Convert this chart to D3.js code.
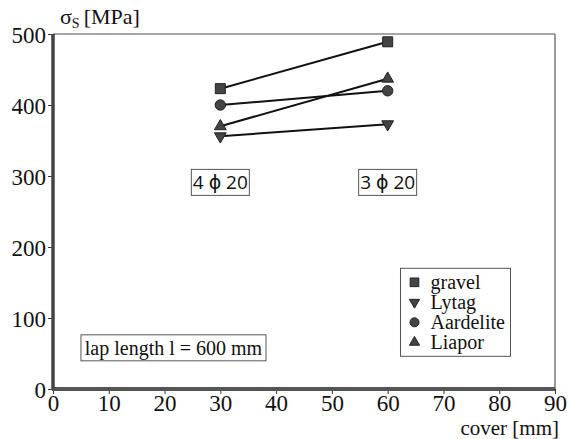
<!DOCTYPE html>
<html>
<head>
<meta charset="utf-8">
<script src="https://cdn.jsdelivr.net/npm/d3@7"></script>
<style>
  body { margin: 0; background: #fff; }
  svg { display: block; }
  text { font-family: "Liberation Serif", "DejaVu Serif", "Times New Roman", serif; fill: #111; }
</style>
</head>
<body>
<div id="container"></div>
<script>
// data
var covers = [30, 60];
var seriesNames = ["gravel", "Lytag", "Aardelite", "Liapor"];
var gravel = [423, 489];
var lytag = [356, 373];
var aardelite = [400, 420];
var liapor = [370, 437];
var xTicks = [0, 10, 20, 30, 40, 50, 60, 70, 80, 90];
var yTicks = [0, 100, 200, 300, 400, 500];

var SERIF = "'Liberation Serif', 'DejaVu Serif', serif";
var SANS = "'Open Sans', 'DejaVu Sans', sans-serif";

var series = [
  {name: seriesNames[0], values: gravel, symbol: d3.symbolSquare, size: 100, rot: 0},
  {name: seriesNames[1], values: lytag, symbol: d3.symbolTriangle, size: 60, rot: 180},
  {name: seriesNames[2], values: aardelite, symbol: d3.symbolCircle, size: 85, rot: 0},
  {name: seriesNames[3], values: liapor, symbol: d3.symbolTriangle, size: 60, rot: 0}
];

var W = 568, H = 439;
var margin = {top: 34, right: 13, bottom: 50, left: 53};
var width = W - margin.left - margin.right;
var height = H - margin.top - margin.bottom;

var svg = d3.select("div#container").append("svg")
  .attr("width", W).attr("height", H);
var g = svg.append("g").attr("transform", "translate(" + margin.left + "," + margin.top + ")");

var x = d3.scaleLinear().domain([0, 90]).range([0, width]);
var y = d3.scaleLinear().domain([0, 500]).range([height, 0]);

// frame: thin top and right border
g.append("line").attr("x1", 0).attr("x2", width).attr("y1", 0).attr("y2", 0)
  .attr("stroke", "#888").attr("stroke-width", 1.5);
g.append("line").attr("x1", width).attr("x2", width).attr("y1", 0).attr("y2", height)
  .attr("stroke", "#555").attr("stroke-width", 1.2);

// axes
var xAxis = g.append("g")
  .attr("transform", "translate(0," + height + ")")
  .call(d3.axisBottom(x).tickValues(xTicks).tickSize(5).tickPadding(3));
var yAxis = g.append("g")
  .call(d3.axisLeft(y).tickValues(yTicks).tickSize(5).tickPadding(2));

[xAxis, yAxis].forEach(function(a) {
  a.attr("font-family", null).attr("font-size", null);
  a.selectAll("text").style("font-family", SERIF)
    .style("font-size", "23px").attr("fill", "#111");
  a.selectAll(".tick line").attr("stroke", "#333").attr("stroke-width", 1);
  a.select(".domain").remove();
});
xAxis.selectAll("text").attr("dy", "0.62em");
yAxis.selectAll("text").attr("dy", "0.35em");

// thick axis lines
g.append("line").attr("x1", -1).attr("x2", width).attr("y1", height).attr("y2", height)
  .attr("stroke", "#555").attr("stroke-width", 4);
g.append("line").attr("x1", 0).attr("x2", 0).attr("y1", 0).attr("y2", height + 1)
  .attr("stroke", "#444").attr("stroke-width", 3.5);

// axis titles
var yt = svg.append("text").attr("x", 60).attr("y", 24)
  .style("font-family", SERIF).style("font-size", "22px");
yt.append("tspan").text("σ");
yt.append("tspan").attr("dy", 4).style("font-size", "14px").text("S");
yt.append("tspan").attr("dy", -4).attr("dx", 4).text("[MPa]");

svg.append("text").attr("x", 559).attr("y", 435).attr("text-anchor", "end")
  .style("font-family", SERIF).style("font-size", "21px").text("cover [mm]");

// lines and markers
var line = d3.line()
  .x(function(d, i) { return x(covers[i]); })
  .y(function(d) { return y(d); });

series.forEach(function(s) {
  g.append("path").datum(s.values)
    .attr("fill", "none").attr("stroke", "#111").attr("stroke-width", 2)
    .attr("d", line);
});
series.forEach(function(s) {
  g.selectAll(null).data(s.values).enter().append("path")
    .attr("d", d3.symbol().type(s.symbol).size(s.size))
    .attr("transform", function(d, i) {
      return "translate(" + x(covers[i]) + "," + y(d) + ") rotate(" + s.rot + ")";
    })
    .attr("fill", "#444").attr("stroke", "#222").attr("stroke-width", 1);
});

// annotation boxes
function box(cx, cy, w, h, label, font, size) {
  g.append("rect").attr("x", cx - w / 2).attr("y", cy - h / 2)
    .attr("width", w).attr("height", h)
    .attr("fill", "#fff").attr("stroke", "#555").attr("stroke-width", 1);
  g.append("text").attr("x", cx).attr("y", cy).attr("dy", "0.36em")
    .attr("text-anchor", "middle")
    .style("font-family", font).style("font-size", size + "px").text(label);
}
box(x(30), y(291), 58, 26, "4 ϕ 20", SANS, 19);
box(x(60), y(291), 58, 26, "3 ϕ 20", SANS, 19);
box(x(21.6), y(58), 185, 26, "lap length l = 600 mm", SERIF, 20);

// legend
var lg = g.append("g").attr("transform", "translate(" + x(62.3) + "," + y(170) + ")");
lg.append("rect").attr("width", 110).attr("height", 88)
  .attr("fill", "#fff").attr("stroke", "#555").attr("stroke-width", 1);
var items = lg.selectAll("g.item").data(series).enter().append("g")
  .attr("transform", function(d, i) { return "translate(14," + (14 + i * 20) + ")"; });
items.append("path")
  .attr("d", function(d) { return d3.symbol().type(d.symbol).size(d.size * 0.75)(); })
  .attr("transform", function(d) { return "rotate(" + d.rot + ")"; })
  .attr("fill", "#444").attr("stroke", "#222");
items.append("text").attr("x", 16).attr("dy", "0.33em")
  .style("font-family", SERIF).style("font-size", "20px").text(function(d) { return d.name; });
</script>
</body>
</html>
